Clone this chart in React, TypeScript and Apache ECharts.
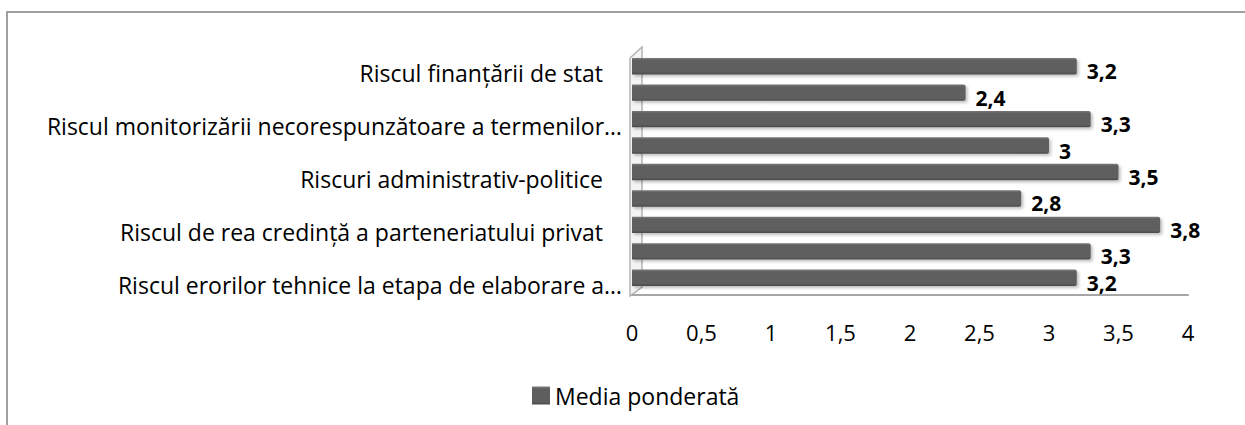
import React, { useEffect, useRef } from "react";
import * as echarts from "echarts";

const categories = [
  "Riscul finanțării de stat",
  "Categoria 2",
  "Riscul monitorizării necorespunzătoare a termenilor…",
  "Categoria 4",
  "Riscuri administrativ-politice",
  "Categoria 6",
  "Riscul de rea credință a parteneriatului privat",
  "Categoria 8",
  "Riscul erorilor tehnice la etapa de elaborare a…",
];
const values = [3.2, 2.4, 3.3, 3, 3.5, 2.8, 3.8, 3.3, 3.2];
const seriesName = "Media ponderată";
const xMin = 0;
const xMax = 4;
const xStep = 0.5;

const FONT = "Open Sans";
const fmt = (v: number) => String(v).replace(".", ",");

export default function App() {
  const ref = useRef<HTMLDivElement>(null);
  useEffect(() => {
    if (!ref.current) return;
    const chart = echarts.init(ref.current, undefined, { renderer: "svg" });
    chart.setOption({
      animation: false,
      backgroundColor: "#ffffff",
      textStyle: { fontFamily: FONT },
      graphic: [
        {
          type: "rect",
          shape: { x: 7, y: 12, width: 1400, height: 600 },
          style: { fill: "none", stroke: "#a0a0a0", lineWidth: 2 },
          silent: true,
          z: 0,
        },
        {
          type: "polygon",
          shape: { points: [[630, 296], [630, 58], [642, 47], [642, 287]] },
          style: { fill: "#f4f4f4", stroke: "#b4b4b4", lineWidth: 1.5 },
          silent: true,
          z: 0,
        },
      ],
      legend: {
        left: 527,
        top: 379,
        itemWidth: 18,
        itemHeight: 18,
        itemGap: 10,
        icon: "rect",
        textStyle: { fontFamily: FONT, fontSize: 23, color: "#000" },
        data: [seriesName],
      },
      grid: { left: 632, right: 57, top: 53, bottom: 134, containLabel: false },
      xAxis: {
        type: "value",
        min: xMin,
        max: xMax,
        interval: xStep,
        offset: 4,
        axisLine: { show: true, lineStyle: { color: "#a6a6a6", width: 2 } },
        axisTick: { show: false },
        splitLine: { show: false },
        axisLabel: {
          margin: 26,
          fontFamily: FONT,
          fontSize: 22,
          color: "#000",
          formatter: (v: number) => fmt(v),
        },
      },
      yAxis: {
        type: "category",
        inverse: true,
        data: categories,
        axisLine: { show: false },
        axisTick: { show: false },
        axisLabel: {
          interval: 1,
          margin: 10,
          padding: [14, 0, 0, 0],
          fontFamily: FONT,
          fontSize: 23,
          color: "#000",
          formatter: (v: string) => (v.endsWith("…") ? v : v + "{s| }"),
          rich: { s: { width: 19, fontSize: 23, fontFamily: FONT } },
        },
      },
      series: [
        {
          name: seriesName,
          type: "bar",
          data: values,
          barCategoryGap: "38%",
          z: 3,
          itemStyle: {
            color: new echarts.graphic.LinearGradient(0, 0, 0, 1, [
              { offset: 0, color: "#7a7a7a" },
              { offset: 0.15, color: "#5e5e5e" },
              { offset: 0.85, color: "#5e5e5e" },
              { offset: 1, color: "#4a4a4a" },
            ]),
            borderRadius: [0, 2, 2, 0],
            shadowColor: "rgba(0,0,0,0.25)",
            shadowBlur: 3,
            shadowOffsetX: 2,
            shadowOffsetY: 2,
          },
          label: {
            show: true,
            position: "right",
            distance: 10,
            offset: [0, 5],
            fontFamily: FONT,
            fontSize: 21,
            fontWeight: "bold",
            color: "#000",
            formatter: (p: any) => fmt(p.value),
          },
        },
      ],
    });
    return () => chart.dispose();
  }, []);
  return (
    <div
      ref={ref}
      style={{ position: "absolute", left: 0, top: 0, width: 1245, height: 425 }}
    />
  );
}
